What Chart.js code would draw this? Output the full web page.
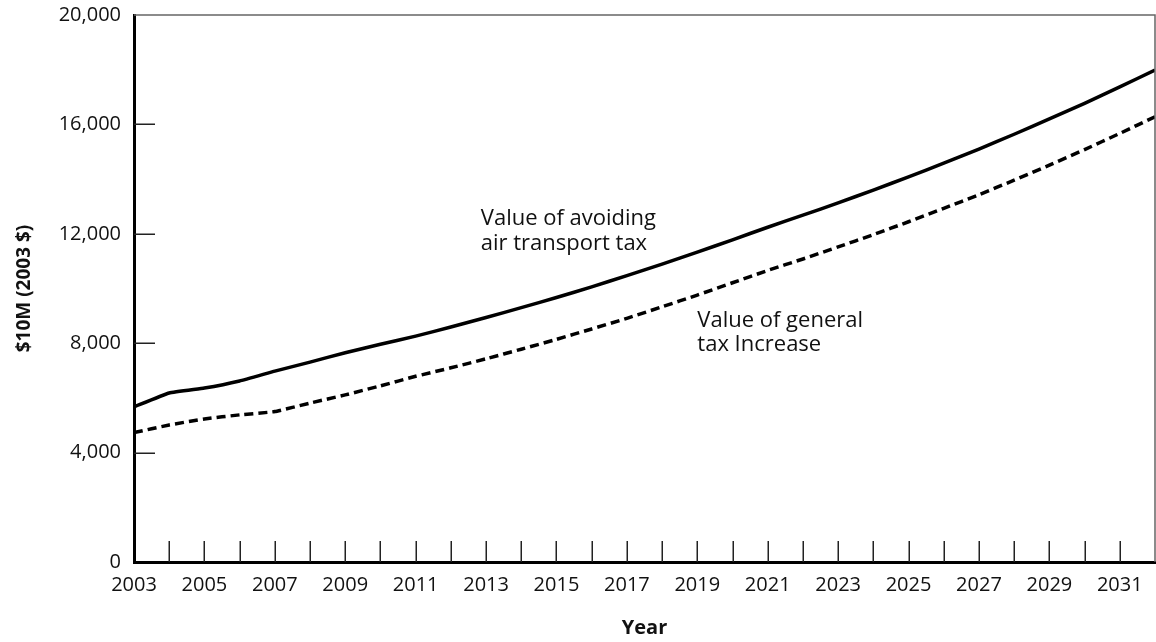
<!DOCTYPE html>
<html>
<head>
<meta charset="utf-8">
<script src="https://cdn.jsdelivr.net/npm/chart.js@4"></script>
<style>
  html, body { margin: 0; padding: 0; background: #fff; }
  #wrap { width: 1156px; height: 642px; }
</style>
</head>
<body>
<div id="wrap"><canvas id="c" width="1156" height="642"></canvas></div>
<script>
// ---- data ----
const years = [2003, 2004, 2005, 2006, 2007, 2008, 2009, 2010, 2011, 2012,
               2013, 2014, 2015, 2016, 2017, 2018, 2019, 2020, 2021, 2022,
               2023, 2024, 2025, 2026, 2027, 2028, 2029, 2030, 2031, 2032];
const airTransportTax = [5670, 6180, 6360, 6620, 6980, 7310, 7650, 7960, 8260, 8590,
                         8940, 9300, 9670, 10060, 10470, 10890, 11330, 11780, 12240, 12680,
                         13130, 13600, 14080, 14580, 15100, 15640, 16200, 16770, 17370, 17990];
const generalTax = [4730, 5010, 5230, 5380, 5500, 5810, 6110, 6440, 6790, 7100,
                    7430, 7780, 8140, 8520, 8910, 9330, 9760, 10210, 10660, 11080,
                    11520, 11970, 12440, 12930, 13430, 13960, 14510, 15080, 15670, 16280];
const xTickLabels = [2003, 2005, 2007, 2009, 2011, 2013, 2015, 2017, 2019, 2021,
                     2023, 2025, 2027, 2029, 2031];
const yTickValues = [0, 4000, 8000, 12000, 16000, 20000];
const seriesNames = ['Value of avoiding air transport tax', 'Value of general tax Increase'];
const notes = [
  { lines: ['Value of avoiding', 'air transport tax'], x: 2012.85, y: 12320 },
  { lines: ['Value of general', 'tax Increase'], x: 2019.0, y: 8600 }
];

const FONT = "'Open Sans', 'Noto Sans', sans-serif";

const decorPlugin = {
  id: 'decor',
  afterDatasetsDraw(chart) {
    const { ctx, chartArea: a, scales: { x, y } } = chart;
    ctx.save();
    // frame top / right
    ctx.strokeStyle = '#666';
    ctx.lineWidth = 1.5;
    ctx.beginPath();
    ctx.moveTo(a.left, a.top);
    ctx.lineTo(a.right, a.top);
    ctx.lineTo(a.right, a.bottom);
    ctx.stroke();
    // inward tick marks
    ctx.strokeStyle = '#222';
    ctx.lineWidth = 1.5;
    ctx.beginPath();
    years.forEach(v => {
      if (v === years[0] || v === years[years.length - 1]) return;
      const px = Math.round(x.getPixelForValue(v)) + 0.25;
      ctx.moveTo(px, a.bottom);
      ctx.lineTo(px, a.bottom - 21);
    });
    yTickValues.forEach(v => {
      if (v === yTickValues[0] || v === yTickValues[yTickValues.length - 1]) return;
      const py = Math.round(y.getPixelForValue(v)) + 0.25;
      ctx.moveTo(a.left, py);
      ctx.lineTo(a.left + 21, py);
    });
    ctx.stroke();
    // annotations
    ctx.fillStyle = '#111';
    ctx.font = '22px ' + FONT;
    ctx.textAlign = 'left';
    ctx.textBaseline = 'alphabetic';
    notes.forEach(n => {
      const px = x.getPixelForValue(n.x);
      const py = y.getPixelForValue(n.y);
      n.lines.forEach((t, i) => ctx.fillText(t, px, py + i * 24.5));
    });
    ctx.restore();
  }
};

new Chart(document.getElementById('c'), {
  type: 'line',
  data: {
    datasets: [
      {
        label: seriesNames[0],
        data: years.map((yr, i) => ({ x: yr, y: airTransportTax[i] })),
        borderColor: '#000',
        borderWidth: 3.5,
        pointRadius: 0,
        tension: 0.1,
        fill: false
      },
      {
        label: seriesNames[1],
        data: years.map((yr, i) => ({ x: yr, y: generalTax[i] })),
        borderColor: '#000',
        borderWidth: 3.5,
        borderDash: [9, 5],
        borderCapStyle: 'butt',
        pointRadius: 0,
        tension: 0.1,
        fill: false
      }
    ]
  },
  options: {
    responsive: false,
    animation: false,
    devicePixelRatio: 1,
    layout: { padding: { top: 15, right: 1, bottom: 0, left: 0 } },
    plugins: { legend: { display: false }, tooltip: { enabled: false } },
    scales: {
      x: {
        type: 'linear',
        min: years[0],
        max: years[years.length - 1],
        afterFit(s) { s.height = 80; s.paddingLeft = 0; s.paddingRight = 0; },
        afterBuildTicks(s) { s.ticks = xTickLabels.map(v => ({ value: v })); },
        ticks: {
          autoSkip: false,
          maxRotation: 0,
          padding: 11,
          color: '#111',
          font: { family: FONT, size: 20 },
          callback: v => String(v)
        },
        grid: { display: false, drawTicks: false },
        border: { display: true, color: '#000', width: 3 },
        title: {
          display: true,
          text: 'Year',
          color: '#111',
          font: { family: FONT, size: 20, weight: 'bold' },
          padding: { top: 0, bottom: 2 }
        }
      },
      y: {
        min: 0,
        max: 20000,
        afterFit(s) { s.width = 134; s.paddingTop = 0; s.paddingBottom = 0; },
        afterBuildTicks(s) { s.ticks = yTickValues.map(v => ({ value: v })); },
        ticks: {
          padding: 13,
          color: '#111',
          font: { family: FONT, size: 20 },
          callback: v => v.toLocaleString('en-US')
        },
        grid: { display: false, drawTicks: false },
        border: { display: true, color: '#000', width: 3 },
        title: {
          display: true,
          text: '$10M (2003 $)',
          color: '#111',
          font: { family: FONT, size: 19, weight: 'bold' },
          padding: { top: 13, bottom: 0 }
        }
      }
    }
  },
  plugins: [decorPlugin]
});
</script>
</body>
</html>
